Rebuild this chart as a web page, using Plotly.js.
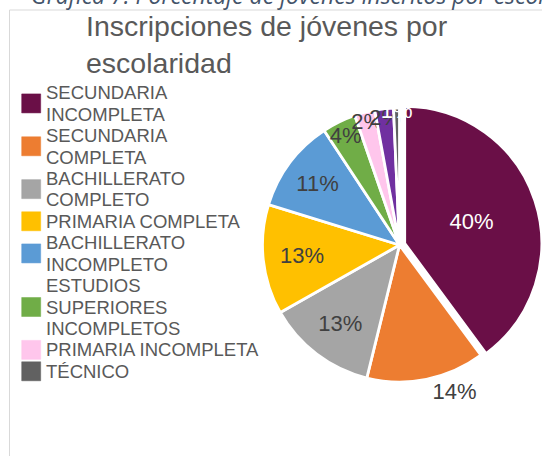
<!DOCTYPE html>
<html>
<head>
<meta charset="utf-8">
<script src="https://cdn.plot.ly/plotly-3.0.1.min.js"></script>
<style>html,body{margin:0;padding:0;background:#fff;overflow:hidden;}</style>
</head>
<body>
<div id="chart" style="width:542px;height:456px;"></div>
<script>
// ---- data ----
const categories = ['SECUNDARIA INCOMPLETA', 'SECUNDARIA COMPLETA', 'BACHILLERATO COMPLETO',
  'PRIMARIA COMPLETA', 'BACHILLERATO INCOMPLETO', 'ESTUDIOS SUPERIORES INCOMPLETOS',
  'PRIMARIA INCOMPLETA', 'OTRO', 'TÉCNICO'];
const values = [40, 14, 13, 13, 11, 4, 2.4, 2.2, 0.7];
const legendLabels = ['SECUNDARIA<br>INCOMPLETA', 'SECUNDARIA<br>COMPLETA', 'BACHILLERATO<br>COMPLETO',
  'PRIMARIA COMPLETA', 'BACHILLERATO<br>INCOMPLETO', 'ESTUDIOS<br>SUPERIORES<br>INCOMPLETOS',
  'PRIMARIA INCOMPLETA', 'TÉCNICO'];
const legendIndex = [0, 1, 2, 3, 4, 5, 6, 8];
const titleText = 'Inscripciones de jóvenes por<br>escolaridad';
const captionText = 'Gráfica 7. Porcentaje de jóvenes inscritos por escolaridad';

// ---- style ----
const colors = ['#6A0F47', '#ED7D31', '#A5A5A5', '#FFC000', '#5B9BD5', '#70AD47', '#FFC6EC', '#7030A0', '#616161'];
const textColors = ['#ffffff', '#404040', '#404040', '#404040', '#404040', '#404040', '#404040', '#404040', '#ffffff'];
const textPos = ['inside', 'outside', 'inside', 'inside', 'inside', 'inside', 'inside', 'inside', 'inside'];
const pulls = [0.04, 0, 0, 0, 0, 0, 0, 0, 0];
const W = 542, H = 456;
const FONT = 'Liberation Sans, Arial, sans-serif';
const px = x => x / W;
const py = y => 1 - y / H;

const trace = {
  type: 'pie',
  labels: categories,
  values: values,
  sort: false,
  direction: 'clockwise',
  rotation: 0,
  pull: pulls,
  marker: {colors: colors, line: {color: '#ffffff', width: 2.8}},
  texttemplate: '%{percent:.0%}',
  textposition: textPos,
  insidetextorientation: 'horizontal',
  textfont: {family: FONT, size: 22, color: textColors},
  outsidetextfont: {family: FONT, size: 22, color: '#404040'},
  showlegend: false,
  hoverinfo: 'label+percent',
  domain: {x: [px(257), 1], y: [py(387.5), py(102.5)]}
};

// frame lines + custom legend (text lines + swatches)
const shapes = [
  {type: 'line', xref: 'paper', yref: 'paper', x0: px(9.5), x1: px(9.5), y0: py(10), y1: 0, line: {color: '#D9D9D9', width: 1}},
  {type: 'line', xref: 'paper', yref: 'paper', x0: px(9.5), x1: 1, y0: py(10), y1: py(10), line: {color: '#D9D9D9', width: 1}}
];
const annotations = [{
  xref: 'paper', yref: 'paper', x: px(30), y: py(12), xanchor: 'left', yanchor: 'bottom',
  text: '<i>' + captionText + '</i>', showarrow: false, borderpad: 0,
  font: {family: 'Open Sans, sans-serif', size: 23, color: '#44546A'}
}];
const base0 = 99.3, step = 21.43;
let line = 0;
legendLabels.forEach((lab, k) => {
  const parts = lab.split('<br>');
  const first = line;
  parts.forEach(p => {
    const b = base0 + step * line;
    annotations.push({xref: 'paper', yref: 'paper', x: px(44.5), y: py(b - 6.5), xanchor: 'left', yanchor: 'middle',
      text: p, showarrow: false, borderpad: 0, font: {family: FONT, size: 18.5, color: '#595959'}});
    line++;
  });
  const cy = base0 + step * (first + line - 1) / 2 - 6.6;
  shapes.push({type: 'rect', xref: 'paper', yref: 'paper', x0: px(21.7), x1: px(40.7), y0: py(cy + 9.5), y1: py(cy - 9.5),
    fillcolor: colors[legendIndex[k]], line: {color: colors[legendIndex[k]], width: 0.5}});
});

const layout = {
  width: W, height: H,
  margin: {l: 0, r: 0, t: 0, b: 0},
  paper_bgcolor: '#ffffff',
  showlegend: false,
  title: {text: titleText, xref: 'container', yref: 'container', x: px(86), xanchor: 'left',
    y: py(36), yanchor: 'top', font: {family: FONT, size: 28.5, color: '#595959'}},
  uniformtext: {minsize: 22, mode: 'show'},
  shapes: shapes,
  annotations: annotations
};

Plotly.newPlot('chart', [trace], layout, {displayModeBar: false, staticPlot: true});
</script>
</body>
</html>
